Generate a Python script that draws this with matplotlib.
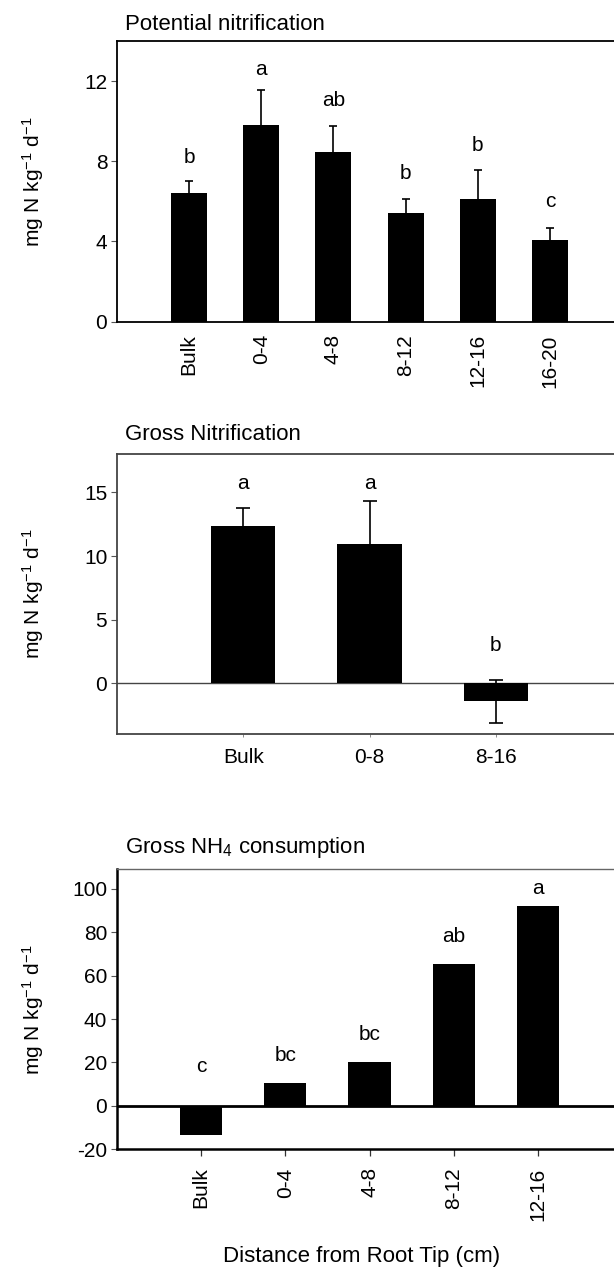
import matplotlib
matplotlib.use("Agg")
import matplotlib.pyplot as plt
import numpy as np

plt.rcParams["font.family"] = ["Liberation Sans", "DejaVu Sans"]
plt.rcParams["mathtext.default"] = "regular"
plt.rcParams["axes.unicode_minus"] = False

# potential nitrification
pot_labels = ["Bulk", "0-4", "4-8", "8-12", "12-16", "16-20"]
pot_values = [6.43, 9.82, 8.46, 5.43, 6.10, 4.09]
pot_err = [0.58, 1.73, 1.31, 0.70, 1.46, 0.56]
pot_letters = ["b", "a", "ab", "b", "b", "c"]
pot_letter_y = [7.9, 12.3, 10.76, 7.1, 8.53, 5.74]

# gross nitrification
gross_labels = ["Bulk", "0-8", "8-16"]
gross_values = [12.38, 10.97, -1.44]
gross_err = [1.39, 3.35, 1.70]
gross_letters = ["a", "a", "b"]
gross_letter_y = [15.3, 15.3, 2.56]

# gross NH4 consumption
nh4_labels = ["Bulk", "0-4", "4-8", "8-12", "12-16"]
nh4_values = [-13.5, 10.5, 20.4, 65.4, 92.0]
nh4_letters = ["c", "bc", "bc", "ab", "a"]
nh4_letter_y = [15.8, 20.8, 30.2, 75.4, 97.4]

ylab = "mg N kg$^{-1}$ d$^{-1}$"
fs = 15
fs_title = 16

fig = plt.figure(figsize=(6.14, 12.69), dpi=100)
W, H = 614.0, 1269.0


def make_ax(top_px, bottom_px):
    return fig.add_axes([117 / W, 1 - bottom_px / H, 505 / W, (bottom_px - top_px) / H])


def style(ax, spine_col="black"):
    for s in ["left", "bottom", "top"]:
        ax.spines[s].set_linewidth(1.3)
        ax.spines[s].set_color(spine_col)
    ax.spines["right"].set_visible(False)
    ax.tick_params(axis="y", direction="out", length=4, width=0.8, color="#555555", labelsize=fs, pad=3)
    ax.yaxis.set_label_coords(-0.14, 0.5)


# panel 1
ax1 = make_ax(41, 321.7)
x1 = np.arange(1, len(pot_labels) + 1)
ax1.bar(x1, pot_values, width=0.5, color="black", zorder=2)
ax1.errorbar(x1, pot_values, yerr=pot_err, fmt="none", ecolor="black", elinewidth=1.2, capsize=3, capthick=1.2, zorder=3)
for xi, t, yy in zip(x1, pot_letters, pot_letter_y):
    ax1.text(xi, yy, t, ha="center", va="baseline", fontsize=fs)
ax1.set_xlim(0, 7)
ax1.set_ylim(0, 14)
ax1.set_yticks([0, 4, 8, 12])
ax1.set_xticks(x1)
ax1.set_xticklabels(pot_labels, rotation=90, fontsize=fs)
ax1.tick_params(axis="x", length=0, pad=9)
style(ax1)
ax1.set_ylabel(ylab, fontsize=fs)
ax1.text(0.015, 1 + 11 / 280.0, "Potential nitrification", transform=ax1.transAxes, ha="left", va="baseline", fontsize=fs_title)

# panel 2
ax2 = make_ax(454.3, 734)
x2 = np.arange(1, len(gross_labels) + 1)
ax2.bar(x2, gross_values, width=0.51, color="black", zorder=2)
ax2.errorbar(x2, gross_values, yerr=gross_err, fmt="none", ecolor="black", elinewidth=1.2, capsize=5, capthick=1.2, zorder=3)
ax2.axhline(0, color="#444444", lw=1.0, zorder=1)
for xi, t, yy in zip(x2, gross_letters, gross_letter_y):
    ax2.text(xi, yy, t, ha="center", va="baseline", fontsize=fs)
ax2.set_xlim(0, 4)
ax2.set_ylim(-4, 18)
ax2.set_yticks([0, 5, 10, 15])
ax2.set_xticks(x2)
ax2.set_xticklabels(gross_labels, fontsize=fs)
style(ax2, "#444444")
ax2.tick_params(axis="x", length=2, width=0.6, color="#777777", pad=8)
ax2.set_ylabel(ylab, fontsize=fs)
ax2.text(0.015, 1 + 14 / 280.0, "Gross Nitrification", transform=ax2.transAxes, ha="left", va="baseline", fontsize=fs_title)

# panel 3
ax3 = make_ax(869.3, 1149.3)
x3 = np.arange(1, len(nh4_labels) + 1)
ax3.bar(x3, nh4_values, width=0.5, color="black", zorder=2)
ax3.axhline(0, color="black", lw=2.0, zorder=3)
for xi, t, yy in zip(x3, nh4_letters, nh4_letter_y):
    ax3.text(xi, yy, t, ha="center", va="baseline", fontsize=fs)
ax3.set_xlim(0, 6)
ax3.set_ylim(-20, 109)
ax3.set_yticks([-20, 0, 20, 40, 60, 80, 100])
ax3.set_xticks(x3)
ax3.set_xticklabels(nh4_labels, rotation=90, fontsize=fs)
style(ax3)
ax3.spines["top"].set_color("#666666")
ax3.spines["top"].set_linewidth(1.0)
ax3.spines["bottom"].set_linewidth(1.8)
ax3.spines["left"].set_linewidth(1.8)
ax3.tick_params(axis="x", direction="out", length=5, width=0.9, color="#333333", pad=8)
ax3.set_ylabel(ylab, fontsize=fs)
ax3.text(0.015, 1 + 16 / 280.0, "Gross NH$_4$ consumption", transform=ax3.transAxes, ha="left", va="baseline", fontsize=fs_title)

fig.text(362 / W, 1 - 1256.7 / H, "Distance from Root Tip (cm)", ha="center", va="center", fontsize=fs_title)

fig.savefig("out.png", dpi=100)
